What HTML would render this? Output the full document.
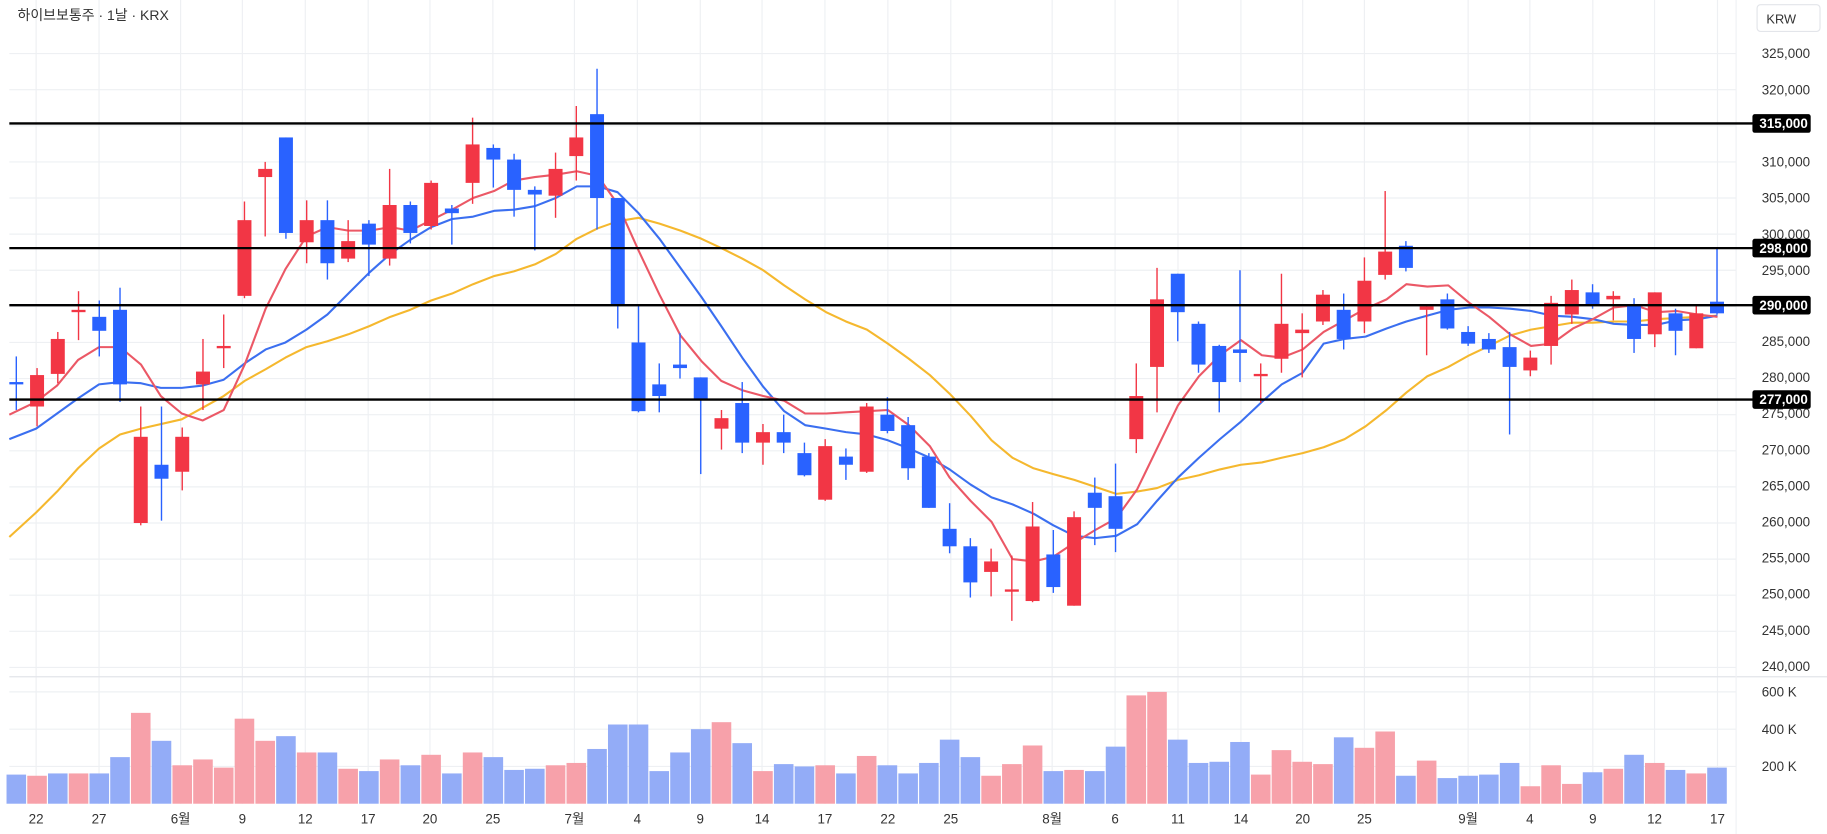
<!DOCTYPE html>
<html><head><meta charset="utf-8"><style>
html,body{margin:0;padding:0;background:#fff;}
svg{display:block;}
text{font-family:"Liberation Sans","Noto Sans CJK KR",sans-serif;}
</style></head><body>
<svg id="c" xmlns="http://www.w3.org/2000/svg" width="1827" height="834" viewBox="0 0 1568 716" preserveAspectRatio="none">
<rect x="0" y="0" width="1568" height="716" fill="#fff"/>
<g id="grid" stroke="#eef0f3" stroke-width="1"></g>
<line x1="8" y1="581" x2="1568" y2="581" stroke="#e3e5ea"/>
<line x1="1490" y1="0" x2="1490" y2="716" stroke="#f0f1f4"/>
<g id="vol"></g>
<g id="ma"></g>
<g id="cdl"></g>
<g stroke="#000" stroke-width="2">
<line x1="8" y1="106" x2="1505" y2="106"/>
<line x1="8" y1="213" x2="1505" y2="213"/>
<line x1="8" y1="262" x2="1505" y2="262"/>
<line x1="8" y1="343" x2="1505" y2="343"/>
</g>
<text x="15" y="17" font-size="12" fill="#333">하이브보통주 · 1날 · KRX</text>
<rect x="1508" y="4" width="54" height="23" rx="3" fill="#fff" stroke="#e3e5ea"/>
<text x="1516" y="20" font-size="11" fill="#333">KRW</text>
<g font-size="11.5" fill="#333">
<text x="1512" y="50">325,000</text>
<text x="1512" y="81">320,000</text>
<text x="1512" y="143">310,000</text>
<text x="1512" y="174">305,000</text>
<text x="1512" y="205">300,000</text>
<text x="1512" y="236">295,000</text>
<text x="1512" y="297">285,000</text>
<text x="1512" y="328">280,000</text>
<text x="1512" y="359">275,000</text>
<text x="1512" y="390">270,000</text>
<text x="1512" y="421">265,000</text>
<text x="1512" y="452">260,000</text>
<text x="1512" y="483">255,000</text>
<text x="1512" y="514">250,000</text>
<text x="1512" y="545">245,000</text>
<text x="1512" y="576">240,000</text>
<text x="1512" y="598">600 K</text>
<text x="1512" y="630">400 K</text>
<text x="1512" y="662">200 K</text>
</g>
<g font-size="11.5" font-weight="bold" fill="#fff">
<rect x="1504" y="98" width="50" height="16" rx="2" fill="#000"/><text x="1510" y="110">315,000</text>
<rect x="1504" y="205" width="50" height="16" rx="2" fill="#000"/><text x="1510" y="217">298,000</text>
<rect x="1504" y="254" width="50" height="16" rx="2" fill="#000"/><text x="1510" y="266">290,000</text>
<rect x="1504" y="335" width="50" height="16" rx="2" fill="#000"/><text x="1510" y="347">277,000</text>
</g>
<g font-size="11.5" fill="#333" text-anchor="middle">
<text x="31" y="707">22</text><text x="85" y="707">27</text><text x="155" y="707">6월</text>
<text x="208" y="707">9</text><text x="262" y="707">12</text><text x="316" y="707">17</text>
<text x="369" y="707">20</text><text x="423" y="707">25</text><text x="493" y="707">7월</text>
<text x="547" y="707">4</text><text x="601" y="707">9</text><text x="654" y="707">14</text>
<text x="708" y="707">17</text><text x="762" y="707">22</text><text x="816" y="707">25</text>
<text x="903" y="707">8월</text><text x="957" y="707">6</text><text x="1011" y="707">11</text>
<text x="1065" y="707">14</text><text x="1118" y="707">20</text><text x="1171" y="707">25</text>
<text x="1260" y="707">9월</text><text x="1313" y="707">4</text><text x="1367" y="707">9</text>
<text x="1420" y="707">12</text><text x="1474" y="707">17</text>
</g>
</svg>
<script>
var NS="http://www.w3.org/2000/svg";
function el(p,t,a){var e=document.createElementNS(NS,t);for(var k in a)e.setAttribute(k,a[k]);p.appendChild(e);return e;}
var g=document.getElementById('grid');
[46,77,108,139,170,201,232,263,294,325,356,387,418,449,480,511,542,573,594,626,658].forEach(function(y){el(g,'line',{x1:8,y1:y,x2:1490,y2:y});});
[31,85,155,208,262,316,369,423,493,547,601,654,708,762,816,903,957,1011,1065,1118,1171,1260,1313,1367,1420,1474].forEach(function(x){el(g,'line',{x1:x,y1:0,x2:x,y2:690});});
var C=[
['b',328,330,306,352],['r',322,349,316,366],['r',291,321,285,329],['r',266,268,250,292],['b',272,284,258,306],
['b',266,330,247,345],['r',375,449,349,451],['b',399,411,349,447],['r',375,405,367,421],['r',319,330,291,352],
['r',297,299,270,316],['r',189,254,173,256],['r',145,152,139,203],['b',118,200,118,205],['r',189,208,172,226],
['b',189,226,172,240],['r',207,222,189,225],['b',192,210,189,237],['r',176,222,145,228],['b',176,200,173,209],
['r',157,194,155,197],['b',179,183,176,210],['r',124,157,101,175],['b',127,137,124,161],['b',137,163,132,186],
['b',163,167,160,215],['r',145,168,131,187],['r',118,134,91,155],['b',98,170,59,197],['b',170,262,170,282],
['b',294,353,261,354],['b',330,340,312,354],['b',313,316,286,325],['b',324,343,324,407],['r',359,368,352,386],
['b',346,380,328,389],['r',371,380,364,399],['b',371,380,356,389],['b',389,408,380,409],['r',383,429,377,430],
['b',392,399,385,412],['r',349,405,346,406],['b',356,370,341,372],['b',365,402,358,412],['b',392,436,389,436],
['b',454,469,432,475],['b',469,500,462,513],['r',482,491,471,512],['r',506,508,477,533],['r',452,516,431,517],
['b',476,504,455,509],['r',444,520,439,520],['b',423,436,410,468],['b',426,454,398,474],['r',340,377,312,389],
['r',257,315,230,354],['b',235,268,235,293],['b',278,313,276,320],['b',297,328,296,354],['b',300,303,232,328],
['r',321,323,312,346],['r',278,308,235,320],['r',283,286,269,324],['r',253,276,249,279],['b',266,291,252,300],
['r',241,276,221,286],['r',216,236,164,240],['b',211,230,207,233],['r',263,266,262,305],['b',257,282,252,283],
['b',285,295,280,297],['b',291,300,286,303],['b',298,315,285,373],['r',307,318,301,323],['r',260,297,254,313],
['r',249,270,240,278],['b',251,262,244,265],['r',254,257,250,275],['b',262,291,256,303],['r',251,287,251,298],
['b',269,284,265,305],['r',269,299,262,299],['b',259,269,213,270]];
var V=[['b',665],['r',666],['b',664],['r',664],['b',664],['b',650],['r',612],['b',636],['r',657],['r',652],['r',659],['r',617],['r',636],['b',632],['r',646],['b',646],['r',660],['b',662],['r',652],['b',657],['r',648],['b',664],['r',646],['b',650],['b',661],['b',660],['r',657],['r',655],['b',643],['b',622],['b',622],['b',662],['b',646],['b',626],['r',620],['b',638],['r',662],['b',656],['b',658],['r',657],['b',664],['r',649],['b',657],['b',664],['b',655],['b',635],['b',650],['r',666],['r',656],['r',640],['b',662],['r',661],['b',662],['b',641],['r',597],['r',594],['b',635],['b',655],['b',654],['b',637],['r',665],['r',644],['r',654],['r',656],['b',633],['r',642],['r',628],['b',666],['r',653],['b',668],['b',666],['b',665],['b',655],['r',675],['r',657],['r',673],['b',663],['r',660],['b',648],['r',655],['b',661],['r',664],['b',659]];
var cd=document.getElementById('cdl'),vg=document.getElementById('vol');
function X(i){return 14+17.8*i;}
C.forEach(function(c,i){var x=X(i),col=c[0]=='r'?'#f23645':'#2962ff';
el(cd,'line',{x1:x,y1:c[3],x2:x,y2:c[4],stroke:col,'stroke-width':1.2});
var h=Math.max(c[2]-c[1],2);el(cd,'rect',{x:x-6,y:c[1],width:12,height:h,fill:col});});
V.forEach(function(v,i){var x=X(i);el(vg,'rect',{x:x-8.4,y:v[1],width:16.8,height:690-v[1],fill:v[0]=='r'?'#f7a1aa':'#93acf7'});});
var R=[[8,356],[31,345],[49,331],[67,309],[85,298],[103,298],[121,313],[138,340],[156,355],[174,361],[192,352],[210,313],[228,265],[245,231],[263,203],[281,195],[299,198],[317,198],[335,195],[352,198],[370,189],[388,180],[406,170],[424,164],[441,155],[459,152],[477,150],[495,147],[513,151],[530,175],[548,215],[566,253],[584,288],[602,310],[619,327],[637,335],[655,340],[673,344],[691,355],[709,355],[726,354],[744,353],[762,352],[780,365],[798,383],[815,410],[833,430],[851,448],[869,480],[887,482],[904,478],[922,466],[940,455],[958,445],[976,420],[993,385],[1011,348],[1029,323],[1047,305],[1065,292],[1083,305],[1100,307],[1118,300],[1136,285],[1154,275],[1172,265],[1190,257],[1207,244],[1225,246],[1243,245],[1261,260],[1278,272],[1296,287],[1314,297],[1332,295],[1350,282],[1367,274],[1385,264],[1403,262],[1421,268],[1439,267],[1457,270],[1474,272]];
var B=[[8,377],[31,368],[49,355],[67,342],[85,330],[103,328],[121,329],[138,333],[156,333],[174,331],[192,326],[210,312],[228,300],[245,294],[263,283],[281,270],[299,252],[317,234],[335,218],[352,206],[370,195],[388,188],[406,186],[424,181],[441,180],[459,177],[477,170],[495,160],[513,160],[530,165],[548,183],[566,205],[584,230],[602,255],[619,280],[637,307],[655,332],[673,353],[691,365],[709,368],[726,371],[744,373],[762,378],[780,385],[798,393],[815,403],[833,416],[851,427],[869,433],[887,441],[904,451],[922,460],[940,462],[958,460],[976,450],[993,430],[1011,410],[1029,393],[1047,377],[1065,362],[1083,345],[1100,330],[1118,320],[1136,295],[1154,291],[1172,289],[1190,282],[1207,276],[1225,271],[1243,266],[1261,264],[1278,264],[1296,265],[1314,267],[1332,271],[1350,272],[1367,274],[1385,278],[1403,279],[1421,279],[1439,275],[1457,274],[1474,271]];
var Y=[[8,461],[31,440],[49,422],[67,402],[85,385],[103,373],[121,368],[156,360],[174,350],[192,340],[210,327],[228,317],[245,307],[263,298],[281,293],[299,287],[317,280],[335,272],[352,266],[370,258],[388,252],[406,244],[424,237],[441,233],[459,227],[477,218],[495,205],[513,196],[530,190],[548,187],[566,192],[584,198],[602,205],[619,213],[637,222],[655,232],[673,245],[691,257],[709,268],[726,276],[744,283],[762,295],[780,308],[798,322],[815,338],[833,357],[851,378],[869,393],[887,402],[904,407],[922,412],[940,418],[958,424],[976,422],[993,419],[1011,412],[1029,408],[1047,403],[1065,399],[1083,397],[1100,393],[1118,389],[1136,384],[1154,377],[1172,366],[1190,352],[1207,337],[1225,323],[1243,315],[1261,305],[1278,297],[1296,288],[1314,283],[1332,280],[1350,277],[1367,277],[1385,276],[1403,276],[1421,274],[1439,273],[1457,272],[1474,271]];
var mg=document.getElementById('ma');
[[Y,'#f5b82e'],[B,'#3b6ff0'],[R,'#eb5866']].forEach(function(s){el(mg,'polyline',{points:s[0].map(function(p){return p.join(',');}).join(' '),fill:'none',stroke:s[1],'stroke-width':1.8,'stroke-linejoin':'round'});});
</script>
</body></html>
